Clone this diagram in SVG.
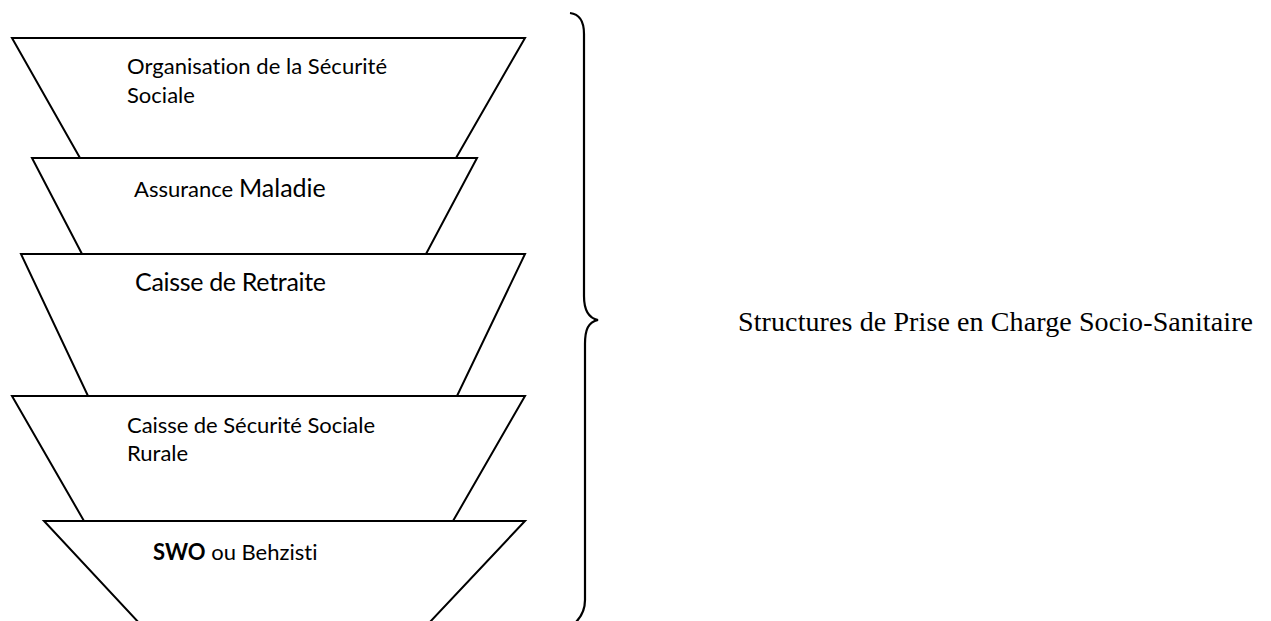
<svg xmlns="http://www.w3.org/2000/svg" width="1271" height="621" viewBox="0 0 1271 621">
<style>
.shape{fill:#fff;stroke:#000;stroke-width:2;stroke-linejoin:miter}
.t{font-family:Lato,"Open Sans",sans-serif;font-size:22px;fill:#000;font-variant-ligatures:none}
.tl{font-family:Lato,"Open Sans",sans-serif;font-size:25px;fill:#000;font-variant-ligatures:none}
.big{font-family:"Liberation Serif","Times New Roman",serif;font-size:28px;fill:#000}
.brace{fill:none;stroke:#000;stroke-width:2.2}
</style>
<rect width="1271" height="621" fill="#fff"/>
<g id="node1">
<polygon class="shape" points="12,38 525,38 456,158 80,158"/>
<text class="t" x="127" y="74" textLength="260">Organisation de la Sécurité</text>
<text class="t" x="127" y="103">Sociale</text>
</g>
<g id="node2">
<polygon class="shape" points="32,158 477,158 426,254 82,254"/>
<text y="197"><tspan class="t" x="134">Assurance</tspan><tspan class="tl" x="239">Maladie</tspan></text>
</g>
<g id="node3">
<polygon class="shape" points="21,254 525,254 457,396 88,396"/>
<text class="tl" x="135" y="291" textLength="191">Caisse de Retraite</text>
</g>
<g id="node4">
<polygon class="shape" points="12,396 525,396 453,521 84,521"/>
<text class="t" x="127" y="433" textLength="248">Caisse de Sécurité Sociale</text>
<text class="t" x="127" y="461">Rurale</text>
</g>
<g id="node5">
<polygon class="shape" points="44,521 525,521 413,640 155,640"/>
<text class="t" x="153" y="560"><tspan font-weight="bold">SWO</tspan> ou Behzisti</text>
</g>
<g id="connectors">
<path class="brace" d="M570,13 C579,14 584,20 584,34 L584,296 C584,310 588,318 598,320 C588,322 585,330 585,344 L585,600 C585,610 581,617 576,622"/>
</g>
<g id="label">
<text class="big" x="738" y="331" textLength="515">Structures de Prise en Charge Socio-Sanitaire</text>
</g>
</svg>
